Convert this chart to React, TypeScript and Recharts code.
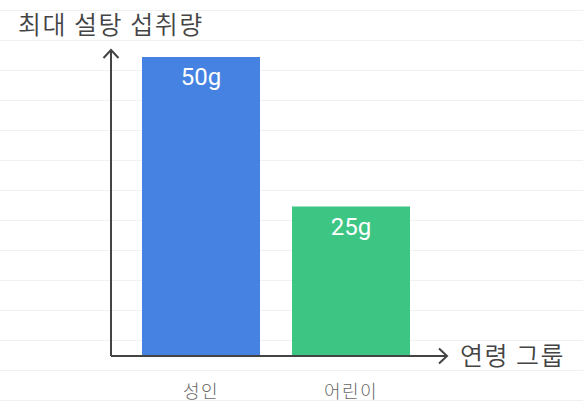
import React from 'react';
import { BarChart, Bar, XAxis, YAxis, Cell, LabelList, Customized } from 'recharts';

const categories = ['성인', '어린이'];
const values = [50, 25];
const valueLabels = ['50g', '25g'];
const barColors = ['#4682E2', '#3DC584'];
const yTitle = '최대 설탕 섭취량';
const xTitle = '연령 그룹';

const data = categories.map((c, i) => ({ name: c, value: values[i], label: valueLabels[i] }));

const CJK = '"Noto Sans CJK KR", "Noto Sans", sans-serif';

const Extras = () => (
  <g>
    <defs>
      <marker
        id="arrowHead"
        viewBox="0 0 20 20"
        markerWidth={20}
        markerHeight={20}
        refX={10}
        refY={10}
        markerUnits="userSpaceOnUse"
        orient="auto-start-reverse"
      >
        <path d="M2 2.5 L10 10 L2 17.5" fill="none" stroke="#444" strokeWidth={2} />
      </marker>
    </defs>
    <text x={18} y={34} fill="#444" fontSize={25} fontWeight={350} letterSpacing={1.5} fontFamily={CJK}>
      {yTitle}
    </text>
    <text x={460} y={365} fill="#444" fontSize={25} fontWeight={350} letterSpacing={1.5} fontFamily={CJK}>
      {xTitle}
    </text>
  </g>
);

export default function App() {
  return (
    <div
      style={{
        position: 'absolute',
        left: 0,
        top: 0,
        width: 583,
        height: 418,
        backgroundColor: '#fff',
        backgroundImage: 'linear-gradient(#f1f1f1 1px, transparent 1px)',
        backgroundSize: '100% 30px',
        backgroundPosition: '0 10px',
      }}
    >
      <BarChart
        width={583}
        height={418}
        data={data}
        margin={{ top: 50, right: 136, bottom: 0, left: 0 }}
        barCategoryGap={16}
      >
        <Customized component={Extras} />
        <XAxis
          dataKey="name"
          height={62}
          padding={{ left: 15, right: 21 }}
          axisLine={{ stroke: '#444', strokeWidth: 2, markerEnd: 'url(#arrowHead)' }}
          tickLine={false}
          tickMargin={23}
          tick={{ fill: '#666', fontSize: 18, fontWeight: 300, letterSpacing: 1.5, fontFamily: CJK }}
        />
        <YAxis
          width={111}
          domain={[0, 50]}
          padding={{ top: 7 }}
          tick={false}
          tickLine={false}
          axisLine={{ stroke: '#444', strokeWidth: 2, markerStart: 'url(#arrowHead)' }}
        />
        <Bar dataKey="value" isAnimationActive={false}>
          {data.map((d, i) => (
            <Cell key={d.name} fill={barColors[i]} />
          ))}
          <LabelList
            dataKey="label"
            position="insideTop"
            offset={11}
            fill="#fff"
            fontSize={24}
            fontWeight={400}
            fontFamily="Roboto, sans-serif"
          />
        </Bar>
      </BarChart>
    </div>
  );
}
